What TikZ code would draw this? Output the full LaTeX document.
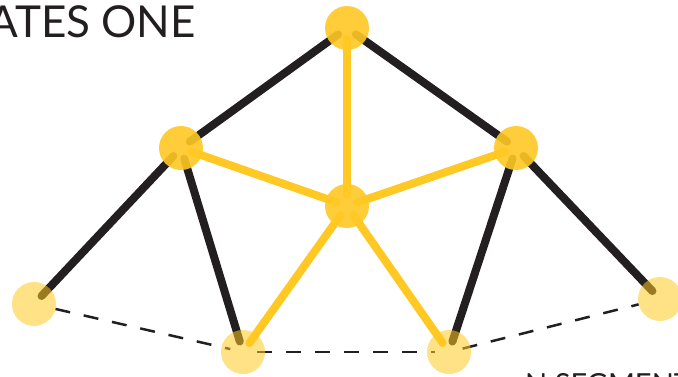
\documentclass[tikz,border=0pt]{standalone}
\usepackage{fontspec}
\setmainfont{Lato}
\definecolor{nodegold}{RGB}{255, 200, 35}
\definecolor{edgeblack}{RGB}{35, 31, 32}
\usetikzlibrary{calc}
\tikzset{
  hub/.style={circle, fill=nodegold, fill opacity=0.9, minimum size=44pt, inner sep=0pt},
  tipdot/.style={circle, fill=nodegold, fill opacity=0.55, minimum size=44pt, inner sep=0pt},
  rim/.style={draw=edgeblack, line width=8pt, line cap=round, shorten <=11pt, shorten >=11pt},
  spoke/.style={draw=nodegold, line width=8pt, line cap=round, shorten <=11pt, shorten >=11pt},
  chord/.style={draw=edgeblack, line width=2.5pt, dash pattern=on 15pt off 14pt}
}

\begin{document}
\begin{tikzpicture}[x=1pt, y=-1pt]
  \useasboundingbox (0,0) rectangle (678,376);
  \clip (0,0) rectangle (678,376);

  % centres of the dots
  \coordinate (top) at (347,28);
  \coordinate (left) at (181,148);
  \coordinate (right) at (516,148);
  \coordinate (centre) at (347,206);
  \coordinate (farleft) at (34,304);
  \coordinate (baseleft) at (243,352);
  \coordinate (baseright) at (449,352);
  \coordinate (farright) at (660,299);

  % dashed segments along the bottom
  \draw[chord, shorten <=22pt, shorten >=13pt] (farleft) -- (baseleft);
  \draw[chord, shorten <=14pt, shorten >=14pt] (baseleft) -- (baseright);
  \draw[chord, shorten <=14pt, shorten >=22pt] (baseright) -- (farright);

  % black outer edges
  \draw[rim] (top) -- (left);
  \draw[rim] (top) -- (right);
  \draw[rim] (left) -- (farleft);
  \draw[rim] (left) -- (baseleft);
  \draw[rim] (right) -- (baseright);
  \draw[rim] (right) -- (farright);

  % yellow spokes
  \draw[spoke] (top) -- (centre);
  \draw[spoke] (left) -- (centre);
  \draw[spoke] (right) -- (centre);
  \draw[spoke] (centre) -- (baseleft);
  \draw[spoke] (centre) -- (baseright);

  % dots
  \node[hub] (topdot) at (top) {};
  \node[hub] (leftdot) at (left) {};
  \node[hub] (rightdot) at (right) {};
  \node[hub] (centredot) at (centre) {};
  \node[tipdot] (farleftdot) at (farleft) {};
  \node[tipdot] (baseleftdot) at (baseleft) {};
  \node[tipdot] (baserightdot) at (baseright) {};
  \node[tipdot] (farrightdot) at (farright) {};

  % labels
  \node[anchor=base east, inner sep=0pt, text=edgeblack, font=\fontsize{44}{44}\selectfont] (title) at (196,37) {ATES ONE};
  \node[anchor=base west, inner sep=0pt, text=edgeblack, font=\fontsize{29}{29}\selectfont] (caption) at (525,394) {N SEGMENTS};
\end{tikzpicture}
\end{document}
